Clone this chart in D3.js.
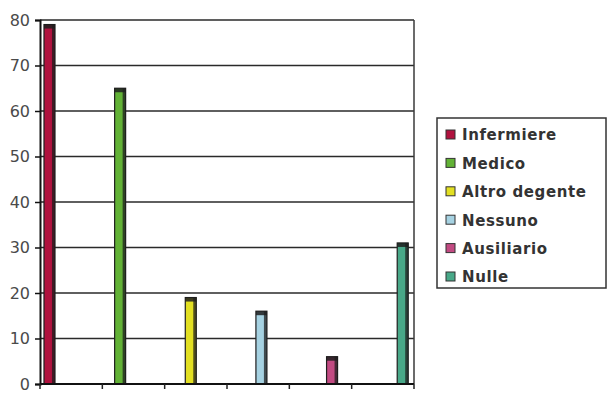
<!DOCTYPE html>
<html>
<head>
<meta charset="utf-8">
<script src="https://cdn.jsdelivr.net/npm/d3@7"></script>
<style>
  html, body { margin: 0; padding: 0; background: #fff; }
  svg { display: block; }
  text { font-family: "DejaVu Sans", Verdana, sans-serif; }
</style>
</head>
<body>
<svg id="chart" width="609" height="414"></svg>
<script>
// Risposte per categoria
const categories = ["Infermiere", "Medico", "Altro degente", "Nessuno", "Ausiliario", "Nulle"];
const values = [79, 65, 19, 16, 6, 31];
const colors = ["#b0123e", "#62b236", "#e2df22", "#a6d2e2", "#c24a82", "#48a888"];
const yTicks = [0, 10, 20, 30, 40, 50, 60, 70, 80];

const svg = d3.select("#chart");
const plot = { left: 40, right: 414, top: 20, bottom: 384 };

const y = d3.scaleLinear().domain([0, 80]).range([plot.bottom, plot.top]);

// Each category occupies its own slot; inside it the series are laid out
// side by side, so each bar sits at its own series offset.
const x0 = d3.scaleBand().domain(categories).range([plot.left, plot.right]).padding(0);
const x1 = d3.scaleBand().domain(categories)
  .range([x0.bandwidth() * 0.064, x0.bandwidth() * 0.864]).padding(0);

// horizontal grid lines
svg.append("g")
  .selectAll("line")
  .data(yTicks.filter(d => d > 0))
  .join("line")
  .attr("x1", plot.left).attr("x2", plot.right)
  .attr("y1", d => y(d)).attr("y2", d => y(d))
  .attr("stroke", "#2a2a2a").attr("stroke-width", 1.5);

// right frame edge
svg.append("line")
  .attr("x1", plot.right).attr("x2", plot.right)
  .attr("y1", plot.top).attr("y2", plot.bottom)
  .attr("stroke", "#3a3a3a").attr("stroke-width", 1.5);

// bars with a dark cap and shaded side
const bars = svg.append("g")
  .selectAll("g")
  .data(categories.map((c, i) => ({ c, v: values[i], col: colors[i] })))
  .join("g")
  .attr("transform", d => `translate(${x0(d.c) + x1(d.c)},0)`);

const w = 11;
bars.append("rect")
  .attr("x", 0).attr("width", w)
  .attr("y", d => y(d.v)).attr("height", d => y(0) - y(d.v))
  .attr("fill", d => d.col)
  .attr("stroke", "#1e1e1e").attr("stroke-width", 1.2);
bars.append("rect")
  .attr("x", w - 3).attr("width", 3)
  .attr("y", d => y(d.v)).attr("height", d => y(0) - y(d.v))
  .attr("fill", "#1e1e1e").attr("opacity", 0.75);
bars.append("rect")
  .attr("x", 0).attr("width", w)
  .attr("y", d => y(d.v)).attr("height", 4)
  .attr("fill", "#1e1e1e").attr("opacity", 0.85);

// y axis
const yAxis = svg.append("g")
  .attr("transform", `translate(${plot.left},0)`)
  .call(d3.axisLeft(y).tickValues(yTicks).tickSize(5).tickPadding(5));
yAxis.select(".domain").attr("stroke", "#111").attr("stroke-width", 2);
yAxis.selectAll(".tick line").attr("stroke", "#111").attr("stroke-width", 1.5);
yAxis.selectAll(".tick text")
  .attr("font-size", 16).attr("fill", "#4a4a4a")
  .attr("font-family", "'DejaVu Sans', Verdana, sans-serif");

// x axis with ticks on the category boundaries
const bounds = categories.map(c => x0(c)).concat([plot.right]);
svg.append("line")
  .attr("x1", plot.left).attr("x2", plot.right)
  .attr("y1", plot.bottom).attr("y2", plot.bottom)
  .attr("stroke", "#111").attr("stroke-width", 2);
svg.append("g")
  .selectAll("line")
  .data(bounds)
  .join("line")
  .attr("x1", d => d).attr("x2", d => d)
  .attr("y1", plot.bottom).attr("y2", plot.bottom + 5)
  .attr("stroke", "#222").attr("stroke-width", 1.5);

// legend
const lg = { x: 437, y: 118, w: 169, h: 170 };
svg.append("rect")
  .attr("x", lg.x).attr("y", lg.y).attr("width", lg.w).attr("height", lg.h)
  .attr("fill", "#fff").attr("stroke", "#333").attr("stroke-width", 1.5);
const rowY = d3.scalePoint().domain(categories).range([lg.y + 17, lg.y + 159]);
const items = svg.append("g")
  .selectAll("g")
  .data(categories.map((c, i) => ({ c, col: colors[i] })))
  .join("g")
  .attr("transform", d => `translate(${lg.x + 9},${rowY(d.c)})`);
items.append("rect")
  .attr("x", 0).attr("y", -5).attr("width", 9).attr("height", 9)
  .attr("fill", d => d.col).attr("stroke", "#333").attr("stroke-width", 1);
items.append("text")
  .attr("x", 16).attr("y", 0).attr("dy", "0.36em")
  .attr("font-size", 15).attr("font-weight", "bold").attr("fill", "#333")
  .attr("letter-spacing", 0.6)
  .text(d => d.c);
</script>
</body>
</html>
